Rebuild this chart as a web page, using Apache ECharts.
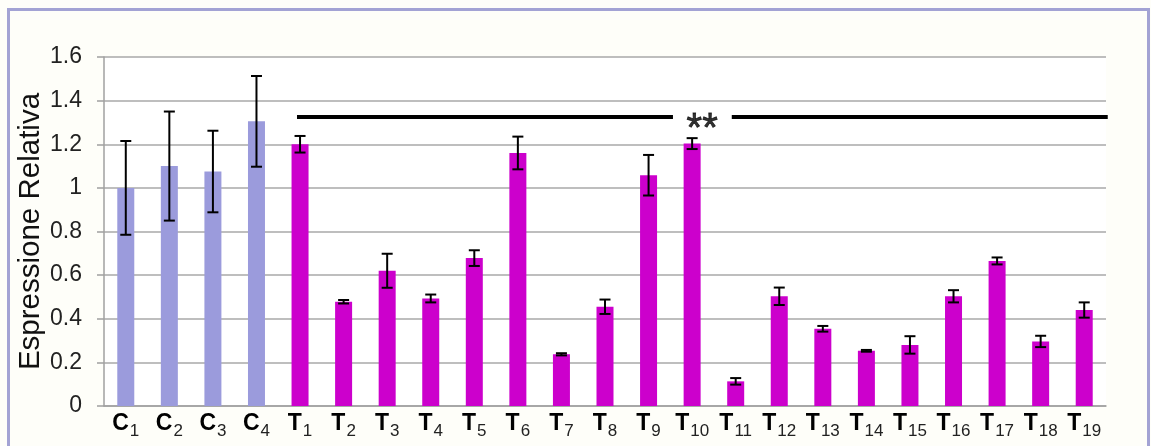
<!DOCTYPE html>
<html>
<head>
<meta charset="utf-8">
<script src="https://cdn.jsdelivr.net/npm/echarts@6/dist/echarts.min.js"></script>
<style>
  html, body { margin: 0; padding: 0; background: #ffffff; }
  #chart { width: 1151px; height: 446px; }
</style>
</head>
<body>
<div id="chart"></div>
<script>
// Sample labels: C = controls, T = treated samples
const categories = ['C1','C2','C3','C4','T1','T2','T3','T4','T5','T6','T7','T8','T9','T10',
                    'T11','T12','T13','T14','T15','T16','T17','T18','T19'];
// Mean relative expression per sample
const values = [1.00, 1.10, 1.075, 1.305, 1.20, 0.478, 0.62, 0.493, 0.678, 1.16, 0.237, 0.455, 1.058, 1.203,
                0.113, 0.503, 0.354, 0.253, 0.28, 0.503, 0.665, 0.296, 0.44];
// Standard error (half length of each error bar)
const errors = [0.215, 0.25, 0.187, 0.208, 0.038, 0.008, 0.078, 0.018, 0.036, 0.075, 0.005, 0.033, 0.093, 0.025,
                0.015, 0.04, 0.013, 0.004, 0.04, 0.028, 0.016, 0.026, 0.035];
// Y axis ticks
const yMin = 0, yMax = 1.6, yStep = 0.2;
// Significance bar: level and horizontal extents (in category units), plus its mark
const sigLevel = 1.325;
const sigSegments = [[4.43, 13.06], [14.41, 23.04]];
const sigMark = { x: 13.73, y: 1.31, text: '**' };

const controlColor = '#9b9bdc';
const treatedColor = '#cc00cc';

const chart = echarts.init(document.getElementById('chart'));

const barData = values.map((v, i) => ({
  value: v,
  itemStyle: { color: categories[i][0] === 'C' ? controlColor : treatedColor }
}));
const errData = values.map((v, i) => [i, v - errors[i], v + errors[i]]);

const sigSeries = sigSegments.map(seg => ({
  type: 'line',
  xAxisIndex: 1,
  data: [[seg[0], sigLevel], [seg[1], sigLevel]],
  symbol: 'none',
  clip: false,
  silent: true,
  lineStyle: { color: '#000', width: 4 },
  z: 5
}));

chart.setOption({
  backgroundColor: '#fefef9',
  animation: false,
  graphic: [{
    type: 'rect',
    shape: { x: 8.5, y: 9.5, width: 1140, height: 460 },
    style: { fill: 'none', stroke: '#a3a3d4', lineWidth: 3 },
    silent: true
  }],
  grid: { left: 104, right: 45, top: 57, bottom: 40, show: true, backgroundColor: '#ffffff', borderWidth: 0 },
  xAxis: [{
    type: 'category',
    data: categories,
    axisLine: { lineStyle: { color: '#a0a0a0', width: 1.5 } },
    axisTick: { show: false },
    axisLabel: {
      margin: 6,
      interval: 0,
      formatter: v => '{b|' + v[0] + '}{s|' + v.slice(1) + '}',
      rich: {
        b: { fontFamily: 'Liberation Sans, Arial', fontWeight: 'bold', fontSize: 23, color: '#000', verticalAlign: 'bottom' },
        s: { fontFamily: 'Liberation Sans, Arial', fontSize: 17, color: '#222', padding: [0, 0, -5, 1], verticalAlign: 'bottom' }
      }
    }
  }, {
    type: 'value', min: 0, max: 23, show: false
  }],
  yAxis: {
    type: 'value',
    min: yMin, max: yMax, interval: yStep,
    name: 'Espressione Relativa',
    nameLocation: 'middle',
    nameGap: 58,
    nameMoveOverlap: false,
    nameTextStyle: { fontFamily: 'Liberation Sans, Arial', fontSize: 29.5, color: '#111' },
    axisLine: { show: true, lineStyle: { color: '#a0a0a0', width: 1.5 } },
    axisTick: { show: true, length: 7, lineStyle: { color: '#a0a0a0', width: 1.5 } },
    splitLine: { lineStyle: { color: '#a8a8a8', width: 1.5 } },
    axisLabel: { margin: 22, fontFamily: 'Liberation Sans, Arial', fontSize: 23, color: '#222' }
  },
  series: [{
    type: 'bar',
    data: barData,
    barWidth: 17,
    z: 2
  }, {
    type: 'custom',
    data: errData,
    z: 4,
    renderItem: (params, api) => {
      const x = api.value(0);
      const lo = api.coord([x, api.value(1)]);
      const hi = api.coord([x, api.value(2)]);
      const cap = 5.5;
      const st = { stroke: '#000', lineWidth: 2 };
      return {
        type: 'group',
        children: [
          { type: 'line', shape: { x1: lo[0], y1: lo[1], x2: hi[0], y2: hi[1] }, style: st },
          { type: 'line', shape: { x1: hi[0] - cap, y1: hi[1], x2: hi[0] + cap, y2: hi[1] }, style: st },
          { type: 'line', shape: { x1: lo[0] - cap, y1: lo[1], x2: lo[0] + cap, y2: lo[1] }, style: st }
        ]
      };
    }
  },
  ...sigSeries,
  {
    type: 'scatter',
    xAxisIndex: 1,
    data: [[sigMark.x, sigMark.y]],
    symbolSize: 0,
    silent: true,
    label: {
      show: true,
      position: 'inside',
      formatter: sigMark.text,
      fontFamily: 'Liberation Sans, Arial',
      fontSize: 40,
      color: '#000',
      textBorderColor: '#000',
      textBorderWidth: 0.8,
      offset: [0, 10]
    },
    z: 6
  }]
});
</script>
</body>
</html>
